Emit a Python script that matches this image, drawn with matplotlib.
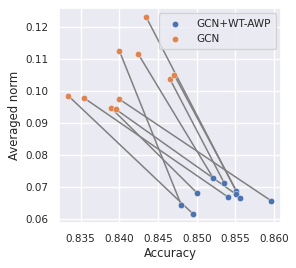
import matplotlib
matplotlib.use('Agg')
import matplotlib.pyplot as plt
import seaborn as sns

# Paired results: index i of GCN matches index i of GCN+WT-AWP
GCN_ACC = [0.83341, 0.83547, 0.84000, 0.84245, 0.84348,
           0.84000, 0.83892, 0.83952, 0.84654, 0.84710]
GCN_NORM = [0.09847, 0.09775, 0.11249, 0.11145, 0.12293,
            0.09743, 0.09473, 0.09432, 0.10367, 0.10491]

AWP_ACC = [0.84956, 0.85408, 0.84801, 0.85214, 0.85507,
           0.85963, 0.85007, 0.85507, 0.85356, 0.85563]
AWP_NORM = [0.06161, 0.06690, 0.06441, 0.07282, 0.06888,
            0.06576, 0.06815, 0.06784, 0.07127, 0.06659]

X_TICKS = [0.835, 0.840, 0.845, 0.850, 0.855, 0.860]
Y_TICKS = [0.06, 0.07, 0.08, 0.09, 0.10, 0.11, 0.12]

sns.set_theme(style='darkgrid')
plt.rcParams['font.family'] = ['DejaVu Sans']

fig = plt.figure(figsize=(2.96, 2.68), dpi=100)
ax = fig.add_axes([59.3 / 296, 1 - 223.3 / 268, (281 - 59.3) / 296, (223.3 - 8) / 268])

# connecting lines
for xa, ya, xb, yb in zip(GCN_ACC, GCN_NORM, AWP_ACC, AWP_NORM):
    ax.plot([xa, xb], [ya, yb], color='gray', linewidth=1.1, zorder=2)

pal = sns.color_palette('deep')
ax.scatter(AWP_ACC, AWP_NORM, s=21, color=pal[0], edgecolor='white',
           linewidth=0.3, zorder=3, label='GCN+WT-AWP')
ax.scatter(GCN_ACC, GCN_NORM, s=21, color=pal[1], edgecolor='white',
           linewidth=0.3, zorder=3, label='GCN')

ax.set_xlim(0.83224, 0.86088)
ax.set_ylim(0.05879, 0.12583)
ax.set_xticks(X_TICKS)
ax.set_yticks(Y_TICKS)
ax.set_xticklabels([f'{t:.3f}' for t in X_TICKS])
ax.set_yticklabels([f'{t:.2f}' for t in Y_TICKS])
ax.tick_params(labelsize=7.5, pad=2)

ax.set_xlabel('Accuracy', fontsize=8.4, labelpad=2)
ax.set_ylabel('Averaged norm', fontsize=8.4, labelpad=3)

ax.legend(loc='upper right', fontsize=7.6, handletextpad=1.0, borderpad=0.5)

fig.savefig('out.png', dpi=100)
